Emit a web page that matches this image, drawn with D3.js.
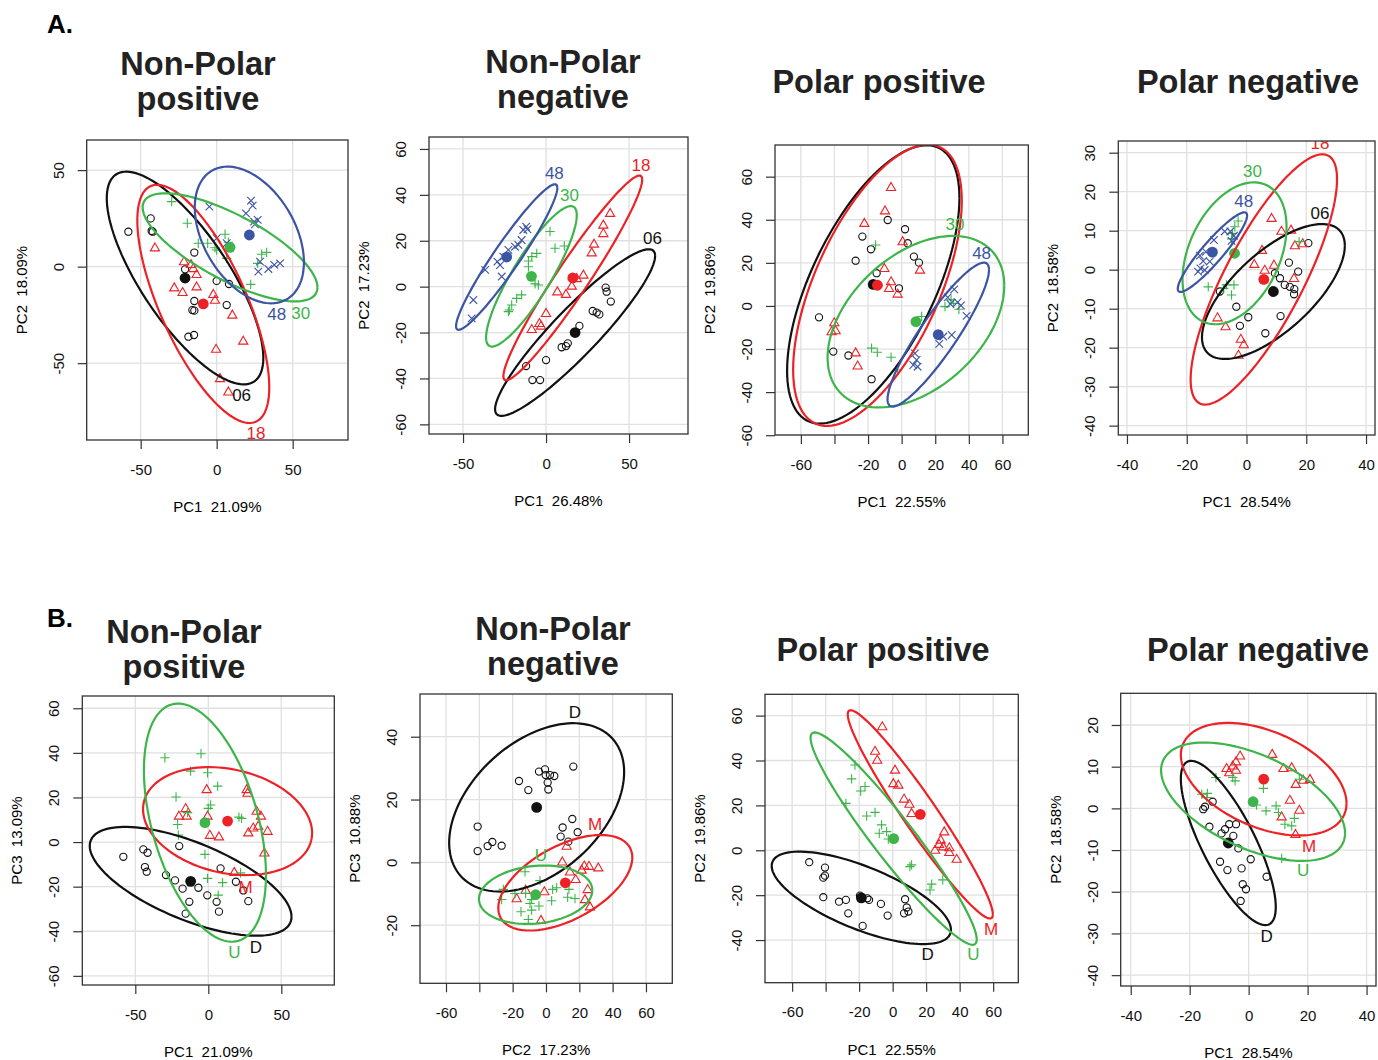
<!DOCTYPE html>
<html>
  <head>
    <meta charset="utf-8">
    <title>PCA score plots</title>
    <style media="screen">
      body {margin:0; background:#fff}
      text {font-family: "Liberation Sans", Arial, sans-serif}
    </style>
  </head>
  <body>
    <script src="https://cdn.jsdelivr.net/npm/d3@7"></script>
    <script type="text/javascript">

    // ---- A. Non-Polar positive (PC1 vs PC2), groups 06 / 18 / 30 / 48
    const aNpPos06 = [[-58.1,18.1],[-43.4,25.0],[-42.8,18.5],[-42.1,18.1],[-14.7,7.3],[-20.8,-1.4],[0,-7.4],[8.1,-9.0],[-14.7,-17.8],[6.6,-19.9],[-16.0,-22.5],[-14.7,-22.8],[-18.6,-36.3],[-14.9,-35.4]]
    const aNpPos18 = [[-40.6,9.8],[-21.5,2.6],[-16.9,1.2],[-15.4,-0.9],[-13.2,-4.0],[-27.9,-10.9],[-22.4,-13.3],[-13.2,-10.4],[-2.2,-14.3],[-1.1,-17.3],[10.3,-25.0],[17.5,-38.5],[-0.4,-42.7],[2.2,-57.9],[7.7,-64.8]]
    const aNpPos30 = [[-29.6,33.7],[-19.3,22.5],[-12.1,12.1],[-5.9,12.1],[-1.1,9.8],[0,8.6],[5.5,16.8],[7.7,12.6],[6.6,4.3],[22.4,-9.2],[29.6,6.4],[32.9,7.4],[27.0,1.7]]
    const aNpPos48 = [[-4.8,31.1],[22.6,34.2],[23.7,31.6],[19.3,27.6],[24.6,23.3],[27.0,24.2],[25.2,21.9],[0,14.7],[6.6,12.1],[28.5,2.6],[27.4,-2.6],[34.0,-1.2],[37.9,0.9],[41.7,1.7]]
    // ellipse: [meanX, meanY, sdX, sdY, r]
    const aNpPosEll = {'06':[-20.8,-5.9,51.5,55.1,-0.75], '18':[-8.8,-19.3,43.4,61.7,-0.7], '30':[8.8,10.0,57.5,28.0,-0.74], '48':[21.5,16.4,35.9,35.4,-0.4]}
    const aNpPosLab = {'48':[39.5,-25.0], '30':[55.3,-24.2], '06':[16.4,-66.5], '18':[25.9,-86.4]}

    // ---- A. Non-Polar negative
    const aNpNeg06 = [[35.9,-0.4],[36.5,-2.2],[39.0,-6.5],[28.1,-10.6],[30.5,-11.3],[32.1,-12.1],[20.1,-17.1],[13.1,-24.7],[12.0,-25.9],[9.4,-26.4],[0,-32.0],[-12.0,-34.6],[-8.2,-40.7],[-3.6,-40.7]]
    const aNpNeg18 = [[38.6,32.0],[34.5,26.9],[34.5,23.2],[28.9,18.6],[27.5,14.8],[22.5,5.1],[18.5,3.6],[15.5,0.3],[6.8,-2.2],[12.0,-3.3],[0,-11.6],[-4.0,-16.0],[-8.6,-18.6],[-3.0,-17.1]]
    const aNpNeg30 = [[2.4,24.0],[5.4,16.7],[11.0,17.7],[-5.6,14.5],[-8.6,13.1],[-10.6,11.2],[-10.6,8.7],[-6.6,1.2],[-4.6,0.7],[-14.7,-3.6],[-17.7,-5.1],[-20.7,-8.0],[-22.1,-10.2],[-22.7,-10.9]]
    const aNpNeg48 = [[-12.0,26.1],[-11.2,25.0],[-13.7,24.7],[-14.7,20.3],[-16.7,18.2],[-18.7,17.4],[-22.7,16.0],[-25.7,13.1],[-29.3,10.9],[-27.7,9.4],[-26.7,4.4],[-36.7,7.3],[-43.8,-5.8],[-44.8,-13.8]]
    const aNpNegEll = {'06':[17.5,-20.0,48.2,36.3,0.92], '18':[16.1,3.8,41.8,44.6,0.96], '30':[-8.8,4.5,27.3,30.6,0.87], '48':[-23.7,12.9,30.5,31.7,0.95]}
    const aNpNegLab = {'48':[5.0,49.4], '30':[14.1,39.9], '18':[57.2,53.0], '06':[64.1,21.1]}

    // ---- A. Polar positive
    const aPPos06 = [[-8.3,39.9],[2.0,35.6],[3.6,29.1],[-23.4,32.2],[-18.3,26.3],[-27.4,21.0],[7.3,22.9],[10.3,20.1],[-14.9,15.2],[-1.6,8.2],[-49.2,-5.3],[-40.7,-21.2],[-31.7,-23.0],[-17.9,-34.0]]
    const aPPos18 = [[-6.3,55.1],[-9.9,44.2],[-22.2,38.4],[0.6,29.9],[-10.3,17.5],[-6.3,11.3],[-7.5,8.2],[-2.4,5.6],[10.9,16.7],[-40.1,-7.7],[-41.7,-11.9],[-39.3,-11.4],[-27.4,-21.7],[-26.2,-27.8]]
    const aPPos30 = [[-15.5,28.3],[11.9,-4.9],[29.4,2.8],[25.8,-0.3],[30.8,1.2],[34.1,-1.5],[-17.9,-19.6],[-14.5,-21.5],[-6.3,-23.8],[-2.4,-29.7]]
    const aPPos48 = [[27.4,4.0],[31.3,7.7],[29.0,0.9],[33.3,1.7],[35.3,0.2],[38.7,-4.6],[29.8,-13.5],[24.8,-14.2],[22.4,-17.6],[7.9,-22.0],[8.9,-25.1],[6.9,-27.4],[9.5,-28.2]]
    const aPPosEll = {'06':[-16.9,10.0,51.3,64.6,0.62], '18':[-14.4,9.6,50.2,65.3,0.6], '30':[8.5,-7.3,52.6,39.8,0.42], '48':[21.8,-13.3,30.2,33.4,0.9]}
    const aPPosLab = {'30':[31.7,37.6], '48':[47.6,24.4]}

    // ---- A. Polar negative
    const aPNeg06 = [[20.7,6.8],[14.2,1.8],[17.3,-0.5],[9.5,-0.9],[11.2,-2.2],[12.8,-3.9],[14.5,-4.4],[16.0,-5.0],[15.9,-6.3],[-8.9,-5.6],[-3.4,-9.5],[0.6,-12.2],[-2.2,-14.4],[11.4,-11.9],[6.3,-16.3]]
    const aPNeg18 = [[8.4,13.2],[11.7,9.9],[14.9,10.2],[16.2,6.2],[18.8,6.7],[5.2,5.0],[2.6,1.4],[9.2,1.2],[6.1,-0.1],[15.9,-2.2],[-9.7,-12.3],[-7.0,-14.6],[-1.9,-17.8],[-0.9,-19.2],[-2.7,-21.9]]
    const aPNeg30 = [[-2.8,12.5],[-3.9,11.0],[-4.7,9.3],[-5.0,7.9],[17.6,7.2],[-12.8,-4.4],[-6.7,-3.9],[-4.2,-3.9],[-5.0,-6.5],[-7.6,-4.8]]
    const aPNeg48 = [[-7.3,9.8],[-5.4,9.8],[-4.2,8.7],[-5.0,7.4],[-10.9,7.6],[-13.6,4.6],[-15.6,3.6],[-14.5,2.2],[-12.3,2.1],[-15.4,0.3],[-14.0,-0.1],[-16.2,-0.5]]
    const aPNegEll = {'06':[9.0,-5.6,23.9,17.3,0.68], '18':[5.8,-2.5,24.5,32.1,0.8], '30':[-4.0,4.2,17.4,18.2,0.37], '48':[-11.4,4.5,11.6,10.2,0.92]}
    const aPNegLab = {'18':[24.6,32.4], '30':[2.0,25.2], '48':[-0.9,17.5], '06':[24.6,14.3]}

    // ---- B. Non-Polar positive (PC1 vs PC3), groups D / M / U
    const bNpPosD = [[-58.2,-6.6],[-44.5,-3.3],[-41.6,-4.8],[-43.4,-11.2],[-42.2,-13.3],[-29.0,-14.8],[-22.8,-17.2],[-19.9,-1.8],[-17.6,-20.9],[-13.0,-26.8],[-15.5,-32.1],[-6.8,-20.5],[-0.7,-23.9],[5.7,-26.8],[7.3,-31.2],[8.4,-11.8],[18.9,-17.8],[24.0,-21.7],[27.4,-26.5]]
    const bNpPosM = [[-1.1,23.6],[26.3,23.6],[26.9,22.0],[-15.5,15.1],[-20.1,11.7],[-14.8,11.7],[-0.5,11.7],[1.1,3.1],[7.3,2.4],[33.1,13.9],[36.1,11.7],[27.4,4.2],[30.8,6.4],[34.2,7.2],[40.6,4.9],[38.4,-4.8],[17.8,-13.5]]
    const bNpPosU = [[-29.7,37.8],[-5.0,39.6],[-12.1,31.8],[-0.5,31.1],[6.4,25.1],[-22.1,20.2],[1.6,16.6],[0,15.1],[-14.2,13.2],[21.0,11.2],[22.8,10.6],[-21.0,7.9],[-20.5,3.1],[-2.3,-5.5],[-0.5,-16.3],[9.8,-18.2],[22.1,-13.8],[6.8,-23.8]]
    const bNpPosEll = {D:[-12.1,-17.6,69.1,24.4,-0.65], M:[13.2,9.4,57.9,24.2,-0.22], U:[-2.3,8.7,41.8,53.4,-0.44]}
    const bNpPosLab = {M:[25.6,-20.2], U:[17.8,-49.6], D:[32.6,-47.1]}

    // ---- B. Non-Polar negative (PC2 vs PC3)
    const bNpNegD = [[16.4,30.5],[-4.2,28.9],[-0.6,29.6],[-0.2,27.8],[2.4,27.8],[5.0,27.5],[1.0,25.4],[1.4,23.2],[-16.2,25.9],[-10.6,23.0],[15.8,13.8],[10.0,11.1],[19.0,9.6],[8.8,8.2],[13.4,6.6],[-41.0,11.4],[-41.0,3.6],[-35.0,5.2],[-32.2,6.5],[-26.6,5.3]]
    const bNpNegM = [[12.4,5.2],[9.8,0.2],[14.4,-3.0],[23.0,-1.1],[25.8,-1.2],[31.4,-1.7],[17.8,-5.4],[25.0,-8.6],[23.4,-11.8],[26.4,-14.1],[-1.0,-9.3],[-12.2,-8.8],[-17.6,-11.5],[-3.0,-18.4],[21.4,-2.4]]
    const bNpNegU = [[-12.6,-3.0],[-3.6,-5.8],[-25.6,-8.6],[-18.6,-9.9],[-26.6,-11.8],[-12.2,-9.9],[-9.6,-13.1],[-4.2,-13.9],[-8.6,-11.8],[4.0,-8.6],[6.4,-8.1],[13.8,-8.6],[13.0,-11.1],[17.4,-11.5],[3.4,-12.2],[-15.0,-15.7],[-10.6,-18.2],[-8.6,-15.2]]
    const bNpNegEll = {D:[-5.6,17.5,52.5,26.8,0.42], M:[11.6,-6.5,40.2,15.2,0.53], U:[-6.2,-10.3,34.0,9.3,0.15]}
    const bNpNegLab = {D:[17.4,47.7], M:[29.4,11.9], U:[-3.0,2.3]}

    // ---- B. Polar positive
    const bPPosD = [[-49.8,-5.3],[-40.4,-7.7],[-40.4,-11.3],[-41.4,-12.2],[-41.4,-20.9],[-32.0,-22.9],[-27.9,-22.1],[-26.5,-28.1],[-19.5,-20.2],[-15.1,-21.4],[-14.1,-22.1],[-17.9,-33.7],[-7.0,-23.9],[-3.0,-29.1],[7.4,-21.8],[8.4,-25.5],[6.8,-28.1],[9.4,-27.3]]
    const bPPosM = [[-6.2,55.1],[-10.5,44.2],[-9.2,40.2],[1.4,35.8],[0.4,29.8],[3.4,29.1],[6.8,22.9],[10.0,20.6],[11.3,16.5],[30.8,8.3],[28.7,4.6],[27.7,2.7],[30.2,1.6],[33.8,1.2],[25.3,0.1],[33.8,-0.9],[38.2,-3.9]]
    const bPPosU = [[-22.5,38.0],[-24.5,31.8],[-19.1,26.4],[-16.5,28.4],[-27.9,20.9],[-15.5,15.3],[-10.5,16.9],[-6.6,11.3],[-8.0,7.6],[-3.6,8.3],[-2.6,5.0],[11.3,-6.5],[10.3,-7.3],[23.3,-15.1],[22.3,-17.7],[29.9,-13.2]]
    const bPPosEll = {D:[-18.7,-21.2,53.5,20.6,-0.69], M:[16.5,16.0,43.3,46.4,-0.96], U:[0.6,5.2,49.6,47.3,-0.95]}
    const bPPosLab = {D:[20.9,-46.6], U:[48.2,-46.6], M:[58.7,-35.5]}

    // ---- B. Polar negative
    const bPNegD = [[-12.2,1.6],[-14.8,0.4],[-15.4,-0.2],[-13.3,-4.4],[-8.0,-5.0],[-6.6,-3.8],[-4.3,-3.8],[-9.2,-6.0],[-5.2,-6.6],[-3.5,-9.6],[-9.7,-12.8],[-7.2,-14.8],[-2.4,-14.4],[0.7,-12.2],[6.1,-16.4],[-2.0,-18.2],[-0.9,-19.4],[-2.7,-22.2]]
    const bPNegM = [[-2.9,12.6],[8.0,13.0],[-4.3,11.2],[-5.4,10.2],[-7.5,9.6],[-4.3,9.2],[-6.6,8.6],[11.8,9.6],[14.6,9.8],[20.8,7.0],[18.5,6.8],[16.0,5.8],[14.0,2.0],[17.2,-0.4],[11.2,-2.0],[15.9,-6.2]]
    const bPNegU = [[-11.1,7.4],[-5.4,7.4],[-4.6,6.6],[-15.9,3.4],[-14.0,3.6],[-14.2,2.6],[5.0,4.8],[2.7,0.8],[5.9,-0.6],[9.3,0.6],[10.1,-1.0],[12.3,-3.8],[14.6,-4.2],[15.5,-2.4],[11.2,-12.0],[17.2,7.0]]
    const bPNegEll = {D:[-6.9,-8.3,16.1,19.7,-0.78], M:[5.1,7.0,28.1,13.5,-0.43], U:[1.5,1.6,31.2,14.2,-0.53]}
    const bPNegLab = {M:[20.5,-9.2], U:[18.5,-15.0], D:[6.1,-30.8]}

    // titles, axis labels, ticks
    const titles = [['Non-Polar','positive'], ['Non-Polar','negative'], ['Polar positive'], ['Polar negative'],
                    ['Non-Polar','positive'], ['Non-Polar','negative'], ['Polar positive'], ['Polar negative']]
    const xTitles = ['PC1  21.09%','PC1  26.48%','PC1  22.55%','PC1  28.54%','PC1  21.09%','PC2  17.23%','PC1  22.55%','PC1  28.54%']
    const yTitles = ['PC2  18.09%','PC2  17.23%','PC2  19.86%','PC2  18.58%','PC3  13.09%','PC3  10.88%','PC2  19.86%','PC2  18.58%']
    const xTicks = [[-50,0,50],[-50,0,50],[-60,-40,-20,0,20,40,60],[-40,-20,0,20,40],
                    [-50,0,50],[-60,-40,-20,0,20,40,60],[-60,-40,-20,0,20,40,60],[-40,-20,0,20,40]]
    const xTickLabels = [[-50,0,50],[-50,0,50],[-60,-20,0,20,40,60],[-40,-20,0,20,40],
                         [-50,0,50],[-60,-20,0,20,40,60],[-60,-20,0,20,40,60],[-40,-20,0,20,40]]
    const yTicks = [[-50,0,50],[-60,-40,-20,0,20,40,60],[-60,-40,-20,0,20,40,60],[-40,-30,-20,-10,0,10,20,30],
                    [-60,-40,-20,0,20,40,60],[-20,0,20,40],[-40,-20,0,20,40,60],[-40,-30,-20,-10,0,10,20]]

    const groupsA = ['06','18','30','48']
    const groupsB = ['D','M','U']

    // layout (pixels) and axis ranges
    const layout = [
      {box:[86.7,140,348,440],    xd:[-85.5,86.4], yd:[-89.8,65.6], tx:198,  ty:[75,110]},
      {box:[429,137,688,434],     xd:[-70.5,85.5], yd:[-64.2,65.2], tx:563,  ty:[73,108]},
      {box:[775,145,1028.3,435],  xd:[-75.4,75.4], yd:[-59.9,74.7], tx:879,  ty:[93]},
      {box:[1118.3,141,1375,435], xd:[-42.9,43.0], yd:[-42.4,33.0], tx:1248, ty:[93]},
      {box:[82.3,696,334.3,985],  xd:[-86.3,86.3], yd:[-64.1,65.5], tx:184,  ty:[643,678]},
      {box:[420,694,672.3,983.3], xd:[-75.6,75.8], yd:[-38.5,53.6], tx:553,  ty:[640,675]},
      {box:[765,694.3,1018.3,982.7], xd:[-76.2,75.0], yd:[-59,69.5], tx:883,  ty:[661]},
      {box:[1120.7,693.3,1376,986], xd:[-43.4,43.2], yd:[-42.6,27.6], tx:1258, ty:[661]}
    ]

    const panelData = [
      {groups:groupsA, pts:{'06':aNpPos06,'18':aNpPos18,'30':aNpPos30,'48':aNpPos48}, ell:aNpPosEll, lab:aNpPosLab},
      {groups:groupsA, pts:{'06':aNpNeg06,'18':aNpNeg18,'30':aNpNeg30,'48':aNpNeg48}, ell:aNpNegEll, lab:aNpNegLab},
      {groups:groupsA, pts:{'06':aPPos06,'18':aPPos18,'30':aPPos30,'48':aPPos48}, ell:aPPosEll, lab:aPPosLab},
      {groups:groupsA, pts:{'06':aPNeg06,'18':aPNeg18,'30':aPNeg30,'48':aPNeg48}, ell:aPNegEll, lab:aPNegLab},
      {groups:groupsB, pts:{D:bNpPosD,M:bNpPosM,U:bNpPosU}, ell:bNpPosEll, lab:bNpPosLab},
      {groups:groupsB, pts:{D:bNpNegD,M:bNpNegM,U:bNpNegU}, ell:bNpNegEll, lab:bNpNegLab},
      {groups:groupsB, pts:{D:bPPosD,M:bPPosM,U:bPPosU}, ell:bPPosEll, lab:bPPosLab},
      {groups:groupsB, pts:{D:bPNegD,M:bPNegM,U:bPNegU}, ell:bPNegEll, lab:bPNegLab}
    ]

    const RED = '#ec2227', GREEN = '#3db54a', BLUE = '#3b54a4', BLACK = '#111'
    const style = {
      '06': {c:BLACK, s:'circle'}, '18': {c:RED, s:'triangle'}, '30': {c:GREEN, s:'plus'}, '48': {c:BLUE, s:'cross'},
      'D': {c:BLACK, s:'circle'}, 'M': {c:RED, s:'triangle'}, 'U': {c:GREEN, s:'plus'}
    }
    const symPath = {
      circle: 'M3.6,0A3.6,3.6 0 1,1 -3.6,0A3.6,3.6 0 1,1 3.6,0Z',
      triangle: 'M0,-4.8L4.6,3.2L-4.6,3.2Z',
      plus: 'M-4.7,0H4.7M0,-4.7V4.7',
      cross: 'M-3.8,-3.8L3.8,3.8M-3.8,3.8L3.8,-3.8'
    }

    const svg = d3.select('body').append('svg')
      .attr('width', 1378).attr('height', 1060)

    svg.append('text').attr('x', 47).attr('y', 33).attr('font-size', 26).attr('font-weight', 'bold').text('A.')
    svg.append('text').attr('x', 47).attr('y', 627).attr('font-size', 26).attr('font-weight', 'bold').text('B.')

    function ellipse(e) {
      const [cx, cy, sx, sy, r] = e
      const q = Math.sqrt(1 - r * r)
      return d3.range(0, 121).map(k => {
        const t = k / 120 * 2 * Math.PI
        return [cx + sx * Math.cos(t), cy + sy * (r * Math.cos(t) + q * Math.sin(t))]
      })
    }

    layout.forEach((L, i) => {
      const P = panelData[i]
      const [x0, y0, x1, y1] = L.box
      const x = d3.scaleLinear().domain(L.xd).range([x0, x1])
      const y = d3.scaleLinear().domain(L.yd).range([y1, y0])
      const g = svg.append('g')

      g.append('clipPath').attr('id', 'clip' + i)
        .append('rect').attr('x', x0).attr('y', y0).attr('width', x1 - x0).attr('height', y1 - y0)

      // grid
      const grid = g.append('g').attr('stroke', '#e0e0e0').attr('stroke-width', 1.3)
      grid.selectAll('.gx').data(xTicks[i]).join('line')
        .attr('x1', d => x(d)).attr('x2', d => x(d)).attr('y1', y0).attr('y2', y1)
      grid.selectAll('.gy').data(yTicks[i]).join('line')
        .attr('y1', d => y(d)).attr('y2', d => y(d)).attr('x1', x0).attr('x2', x1)

      // axes
      const xa = g.append('g').attr('transform', `translate(0,${y1})`)
        .call(d3.axisBottom(x).tickValues(xTicks[i]).tickSize(9).tickPadding(15)
          .tickFormat(d => xTickLabels[i].includes(d) ? String(d) : ''))
      const ya = g.append('g').attr('transform', `translate(${x0},0)`)
        .call(d3.axisLeft(y).tickValues(yTicks[i]).tickSize(9).tickFormat(d => String(d)))
      ;[xa, ya].forEach(a => {
        a.select('.domain').remove()
        a.attr('font-family', null).attr('font-size', null)
        a.selectAll('.tick line').attr('stroke', '#333').attr('stroke-width', 1.2)
        a.selectAll('.tick text').attr('font-size', 15).attr('fill', '#111')
      })
      ya.selectAll('.tick text')
        .attr('transform', 'rotate(-90)').attr('x', 0).attr('y', -23).attr('dy', 0)
        .attr('text-anchor', 'middle')

      // plot contents
      const c = g.append('g').attr('clip-path', `url(#clip${i})`)
      P.groups.forEach(k => {
        const st = style[k]
        c.append('g').selectAll('path').data(P.pts[k]).join('path')
          .attr('transform', d => `translate(${x(d[0])},${y(d[1])})`)
          .attr('d', symPath[st.s]).attr('fill', 'none')
          .attr('stroke', st.c).attr('stroke-width', 1.1)
      })
      P.groups.forEach(k => {
        const e = P.ell[k]
        c.append('circle').attr('cx', x(e[0])).attr('cy', y(e[1])).attr('r', 5.4).attr('fill', style[k].c)
      })
      const line = d3.line().x(d => x(d[0])).y(d => y(d[1]))
      P.groups.forEach(k => {
        c.append('path').attr('d', line(ellipse(P.ell[k])))
          .attr('fill', 'none').attr('stroke', style[k].c).attr('stroke-width', 2.2)
      })
      Object.keys(P.lab).forEach(k => {
        c.append('text').attr('x', x(P.lab[k][0])).attr('y', y(P.lab[k][1]))
          .attr('text-anchor', 'middle').attr('dominant-baseline', 'central')
          .attr('font-size', 17).attr('fill', style[k].c).text(k)
      })

      // box
      g.append('rect').attr('x', x0).attr('y', y0).attr('width', x1 - x0).attr('height', y1 - y0)
        .attr('fill', 'none').attr('stroke', '#333').attr('stroke-width', 1.3)

      // axis titles
      g.append('text').attr('x', (x0 + x1) / 2).attr('y', y1 + 72)
        .attr('text-anchor', 'middle').attr('font-size', 15).style('white-space', 'pre')
        .text(xTitles[i])
      g.append('text').attr('transform', `translate(${x0 - 60},${(y0 + y1) / 2}) rotate(-90)`)
        .attr('text-anchor', 'middle').attr('font-size', 15).style('white-space', 'pre')
        .text(yTitles[i])

      // panel title
      titles[i].forEach((t, j) => {
        g.append('text').attr('x', L.tx).attr('y', L.ty[j])
          .attr('text-anchor', 'middle').attr('font-size', 32.5).attr('font-weight', 'bold')
          .attr('fill', '#222').text(t)
      })
    })

    </script>
  </body>
</html>
